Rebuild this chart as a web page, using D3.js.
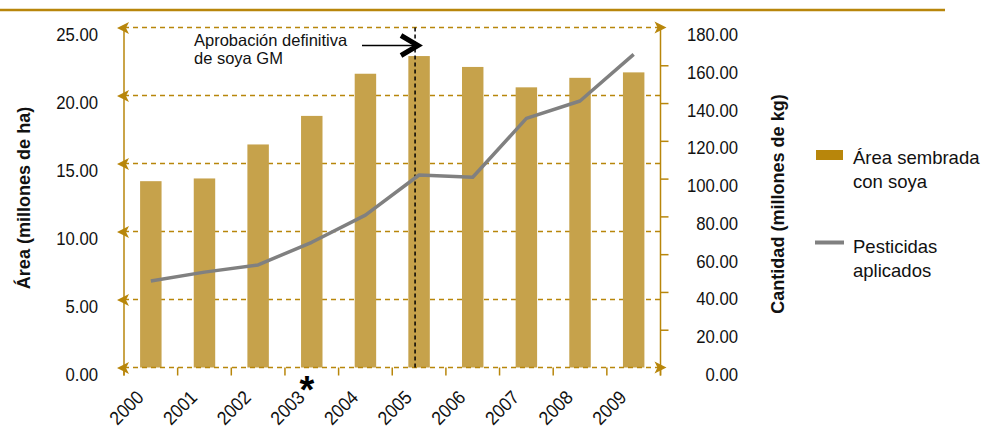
<!DOCTYPE html>
<html>
<head>
<meta charset="utf-8">
<script src="https://cdn.jsdelivr.net/npm/d3@7"></script>
<style>
  html, body { margin: 0; padding: 0; background: #ffffff; }
  svg { display: block; }
  text { font-family: "Liberation Sans", Arial, Helvetica, sans-serif; }
</style>
</head>
<body>
<svg id="chart" width="984" height="430"></svg>
<script>
// Soybean area (millions of ha) and pesticides applied (millions of kg), 2000–2009
const years = ["2000", "2001", "2002", "2003", "2004", "2005", "2006", "2007", "2008", "2009"];
const areaValues = [13.7, 13.9, 16.4, 18.5, 21.6, 22.9, 22.1, 20.6, 21.3, 21.7];
const pesticideValues = [45.8, 50.5, 54.3, 66.3, 80.7, 101.9, 100.7, 131.9, 141.1, 165.8];
const areaTicks = [0, 5, 10, 15, 20, 25];
const qtyTicks = [0, 20, 40, 60, 80, 100, 120, 140, 160, 180];
const markedYear = "2003";
const approvalYear = "2005";

const gold = "#b8860b";
const barGold = "#c6a24b";
const lineGray = "#808080";
const ink = "#111111";

// condensed look: horizontal squeeze of the regular sans face
const squeeze = 0.88;

const svg = d3.select("#chart");

const plotLeft = 124, plotRight = 660.5, plotTop = 27.5, plotBottom = 367.5;

const x = d3.scaleBand().domain(years).range([plotLeft, plotRight]).paddingInner(0.6).paddingOuter(0.3);
const yL = d3.scaleLinear().domain([0, 25]).range([plotBottom, plotTop]);
const yR = d3.scaleLinear().domain([0, 180]).range([plotBottom, plotTop]);
const cx = d => x(d) + x.bandwidth() / 2;
const cellEdge = d => x(d) - (x.step() - x.bandwidth()) / 2;

// top rule
svg.append("line").attr("x1", 0).attr("x2", 945).attr("y1", 10).attr("y2", 10)
  .attr("stroke", gold).attr("stroke-width", 2.5);

// dashed horizontal gridlines
svg.append("g").selectAll("line").data(areaTicks.filter(d => d > 0)).join("line")
  .attr("x1", plotLeft).attr("x2", plotRight)
  .attr("y1", d => yL(d)).attr("y2", d => yL(d))
  .attr("stroke", gold).attr("stroke-width", 1.5).attr("stroke-dasharray", "5,4");

// bars
svg.append("g").selectAll("rect").data(years).join("rect")
  .attr("x", d => x(d)).attr("width", x.bandwidth())
  .attr("y", (d, i) => yL(areaValues[i]))
  .attr("height", (d, i) => yL(0) - yL(areaValues[i]))
  .attr("fill", barGold);

// baseline (dashed, over bars)
svg.append("line").attr("x1", plotLeft).attr("x2", plotRight).attr("y1", yL(0)).attr("y2", yL(0))
  .attr("stroke", gold).attr("stroke-width", 1.5).attr("stroke-dasharray", "5,4");

// arrowheads pointing right at the ends of the top and bottom lines
const rightArrow = y => `M${plotRight + 6},${y} L${plotRight - 6},${y - 6} L${plotRight - 3},${y} L${plotRight - 6},${y + 6} Z`;
svg.append("g").selectAll("path").data([areaTicks[0], areaTicks[areaTicks.length - 1]]).join("path")
  .attr("d", d => rightArrow(yL(d))).attr("fill", gold);

// approval marker: vertical dashed line
const approvalX = cx(approvalYear) - 4;
svg.append("line").attr("x1", approvalX).attr("x2", approvalX).attr("y1", plotTop).attr("y2", plotBottom)
  .attr("stroke", "#000").attr("stroke-width", 1.5).attr("stroke-dasharray", "4,3");

// pesticide line
const line = d3.line().x(d => cx(d.year)).y(d => yR(d.value));
svg.append("path")
  .datum(years.map((year, i) => ({ year, value: pesticideValues[i] })))
  .attr("d", line).attr("fill", "none").attr("stroke", lineGray).attr("stroke-width", 3.5)
  .attr("stroke-linejoin", "round");

// left axis
const axL = svg.append("g").attr("transform", `translate(${plotLeft},0)`)
  .call(d3.axisLeft(yL).tickValues(areaTicks).tickFormat(d3.format(".2f")).tickSize(0));
axL.select(".domain").attr("d", `M0,${plotTop}V${plotBottom + 8}`).attr("stroke", gold).attr("stroke-width", 1.5);
axL.selectAll(".tick text")
  .attr("x", 0).attr("dy", 0).attr("text-anchor", "end")
  .attr("transform", `translate(-26,13) scale(${squeeze},1)`)
  .attr("font-size", 19).attr("font-family", null).attr("fill", ink);
axL.selectAll(".tick").append("path")
  .attr("d", "M-7,0 L5,-6 L2,0 L5,6 Z").attr("fill", gold);

// right axis
const axR = svg.append("g").attr("transform", `translate(${plotRight},0)`)
  .call(d3.axisRight(yR).tickValues(qtyTicks).tickFormat(d3.format(".2f")).tickSize(8));
axR.select(".domain").attr("d", `M0,${plotTop}V${plotBottom + 8}`).attr("stroke", gold).attr("stroke-width", 1.5);
axR.selectAll(".tick line").attr("stroke", gold).attr("stroke-width", 1.5)
  .filter(d => d === 0 || d === 180).remove();
axR.selectAll(".tick text")
  .attr("x", 0).attr("dy", 0).attr("text-anchor", "end")
  .attr("transform", `translate(77.5,13) scale(${squeeze},1)`)
  .attr("font-size", 19).attr("font-family", null).attr("fill", ink);

// x axis: ticks at category boundaries, rotated year labels
const edges = years.map(cellEdge).concat([plotRight]);
svg.append("g").selectAll("line").data(edges).join("line")
  .attr("x1", d => d).attr("x2", d => d).attr("y1", plotBottom).attr("y2", plotBottom + 8)
  .attr("stroke", gold).attr("stroke-width", 1.5);
svg.append("g").selectAll("text").data(years).join("text")
  .attr("font-size", 19).attr("fill", ink)
  .attr("text-anchor", "end")
  .attr("transform", d => `translate(${cx(d) - 6},${plotBottom + 31}) rotate(-45) scale(0.92,1)`)
  .text(d => d);

// asterisk next to 2003
svg.append("text").attr("font-weight", "bold").attr("font-size", 38)
  .attr("text-anchor", "middle").attr("x", cx(markedYear) - 5).attr("y", plotBottom + 35)
  .attr("fill", "#000").text("*");

// axis titles
svg.append("text").attr("font-weight", "bold").attr("font-size", 19)
  .attr("text-anchor", "middle").attr("transform", "translate(30,198) rotate(-90) scale(0.95,1)")
  .attr("fill", "#111").text("Área (millones de ha)");
svg.append("text").attr("font-weight", "bold").attr("font-size", 19)
  .attr("text-anchor", "middle").attr("transform", "translate(784,204) rotate(-90) scale(0.95,1)")
  .attr("fill", "#111").text("Cantidad (millones de kg)");

// annotation
const note = svg.append("text").attr("font-size", 16.5).attr("fill", "#111");
note.append("tspan").attr("x", 194).attr("y", 46).text("Aprobación definitiva");
note.append("tspan").attr("x", 194).attr("y", 64).text("de soya GM");
svg.append("line").attr("x1", 362).attr("x2", 416).attr("y1", 45.5).attr("y2", 45.5)
  .attr("stroke", "#000").attr("stroke-width", 1.5);
svg.append("path").attr("d", "M401,35.5 L418,45.5 L401,55.5").attr("fill", "none")
  .attr("stroke", "#000").attr("stroke-width", 5).attr("stroke-linejoin", "miter");

// legend
const legend = svg.append("g");
legend.append("rect").attr("x", 816).attr("y", 150).attr("width", 27).attr("height", 10).attr("fill", gold);
const l1 = legend.append("text").attr("font-size", 18.5).attr("fill", "#111");
l1.append("tspan").attr("x", 853).attr("y", 164).text("Área sembrada");
l1.append("tspan").attr("x", 853).attr("y", 188).text("con soya");
legend.append("line").attr("x1", 815).attr("x2", 844).attr("y1", 242.5).attr("y2", 242.5)
  .attr("stroke", lineGray).attr("stroke-width", 4);
const l2 = legend.append("text").attr("font-size", 18.5).attr("fill", "#111");
l2.append("tspan").attr("x", 853).attr("y", 253).text("Pesticidas");
l2.append("tspan").attr("x", 853).attr("y", 277).text("aplicados");
</script>
</body>
</html>
